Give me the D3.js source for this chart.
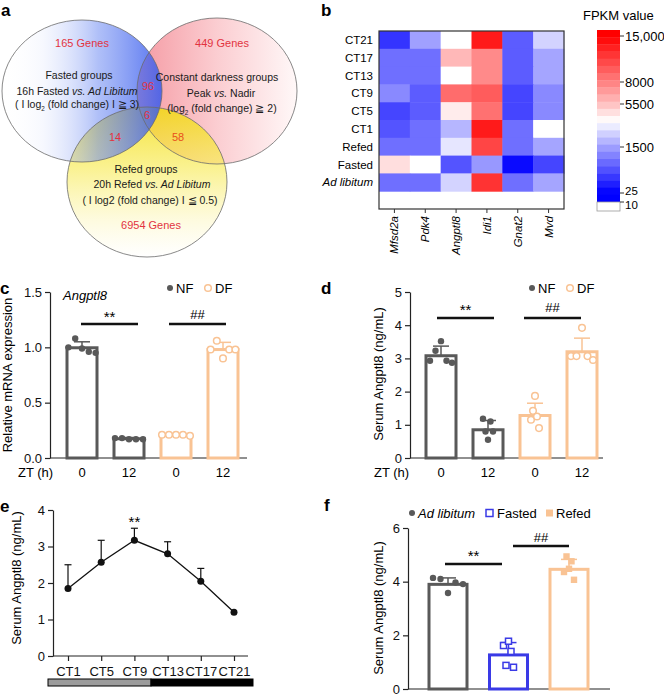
<!DOCTYPE html>
<html><head><meta charset="utf-8">
<script src="https://cdn.jsdelivr.net/npm/d3@7"></script>
<style>
body{margin:0;background:#fff;}
svg{display:block;font-family:"Liberation Sans",Arial,Helvetica,sans-serif;}
</style></head><body>
<svg id="fig" width="664" height="696"></svg>
<script>
// ================= DATA =================
// Panel a (Venn)
const vennUniqueCounts = [165, 449, 6954];      // Fasted, Constant darkness, Refed
const vennPairCounts = [96, 14, 58];             // F∩D, F∩R, D∩R
const vennTripleCount = [6];
// Panel b (heatmap, FPKM)
const hmRows = ["CT21","CT17","CT13","CT9","CT5","CT1","Refed","Fasted","Ad libitum"];
const hmGenes = ["Mfsd2a","Pdk4","Angptl8","Idi1","Gnat2","Mvd"];
const hmValues = [
  [500, 1500, 3900, 13600, 870, 2780],
  [1050, 1050, 5800, 7600, 870, 1620],
  [1050, 1050, 3900, 7600, 870, 1620],
  [1290, 870, 9120, 9960, 660, 1290],
  [660, 870, 4380, 8840, 660, 1290],
  [800, 1050, 2050, 13600, 1050, 3900],
  [1050, 1050, 3260, 11220, 1050, 1620],
  [4730, 3900, 800, 1430, 120, 660],
  [1050, 1050, 2780, 12200, 1050, 1620]
];
const cbTickValues = [10, 25, 1500, 5500, 8000, 15000];
const cbTickLabels = ["10", "25", "1500", "5500", "8000", "15,000"];
// Panel c
const ztLabels = ["0", "12", "0", "12"];
const ztGroups = ["NF", "NF", "DF", "DF"];
const cMeans = [0.996, 0.174, 0.208, 0.98];
const cErrTop = [1.05, 0.185, 0.215, 1.045];
const cPoints = [[1.0, 1.08, 0.99, 0.96, 0.95],[0.18, 0.18, 0.17, 0.17, 0.17],[0.21, 0.21, 0.21, 0.21, 0.20],[0.98, 1.06, 0.90, 0.98, 0.98]];
const cTicks = [0, 0.5, 1.0, 1.5];
// Panel d
const dMeans = [3.08, 0.85, 1.28, 3.2];
const dErrTop = [3.37, 1.13, 1.65, 3.61];
const dPoints = [[2.93, 3.23, 3.52, 2.93, 2.87],[1.18, 0.8, 0.55, 1.1, 0.8],[1.15, 1.42, 1.87, 1.25, 0.9],[3.07, 3.07, 3.92, 3.07, 2.95]];
const dTicks = [0, 1, 2, 3, 4, 5];
// Panel e
const ctLabels = ["CT1", "CT5", "CT9", "CT13", "CT17", "CT21"];
const eMeans = [1.85, 2.57, 3.17, 2.8, 2.05, 1.2];
const eErrTop = [2.5, 3.17, 3.5, 3.13, 2.4, 1.2];
const eTicks = [0, 1, 2, 3, 4];
// Panel f
const fGroups = ["Ad libitum", "Fasted", "Refed"];
const fMeans = [3.9, 1.27, 4.46];
const fErrTop = [4.14, 1.73, 4.83];
const fPoints = [[4.14, 4.1, 3.58, 3.97, 3.91],[1.62, 0.88, 1.78, 1.4, 0.81],[4.36, 4.94, 4.48, 4.76, 4.07]];
const fTicks = [0, 2, 4, 6];

// ================= STYLE =================
const GRAY = "#595959", ORANGE = "#f9c394", BLUE = "#3a3ae6", RED = "#e2333f", AXIS = "#222";
const groupColor = {NF: GRAY, DF: ORANGE, "Ad libitum": GRAY, Fasted: BLUE, Refed: ORANGE};

const svg = d3.select("#fig");
const defs = svg.append("defs");

function panelLabel(t, x, y) {
  svg.append("text").attr("x", x).attr("y", y).text(t)
    .style("font-size", "17px").style("font-weight", "bold");
}

// ================= PANEL A =================
(function() {
  const g = svg.append("g");
  function grad(id, vertical, stops) {
    const lg = defs.append("linearGradient").attr("id", id)
      .attr("x1", 0).attr("y1", 0).attr("x2", vertical ? 0 : 1).attr("y2", vertical ? 1 : 0);
    stops.forEach(s => lg.append("stop").attr("offset", s[0]).attr("stop-color", s[1]).attr("stop-opacity", s[2] === undefined ? 1 : s[2]));
  }
  grad("gPink", false, [[0, "#f59aa3"], [0.5, "#fbcdd1"], [1, "#fff8f8"]]);
  grad("gYellow", true, [[0, "#f2dc10", 0.85], [0.4, "#f8ec60", 0.7], [0.75, "#fdf8c8", 0.6], [1, "#ffffff", 0.5]]);
  grad("gBlue", false, [[0, "#ffffff", 0], [0.25, "#c8d3fa", 0.15], [0.6, "#6f8cf2", 0.55], [1, "#3659ee", 0.85]]);
  const shapes = [
    {cx: 217, cy: 91, rx: 80, ry: 73, fill: "url(#gPink)"},
    {cx: 147, cy: 182, rx: 80, ry: 75, fill: "url(#gYellow)"},
    {cx: 82, cy: 91, rx: 80, ry: 71, fill: "url(#gBlue)"}
  ];
  g.selectAll("ellipse.f").data(shapes).join("ellipse")
    .attr("cx", d => d.cx).attr("cy", d => d.cy).attr("rx", d => d.rx).attr("ry", d => d.ry)
    .attr("fill", d => d.fill);
  g.selectAll("ellipse.o").data(shapes).join("ellipse")
    .attr("cx", d => d.cx).attr("cy", d => d.cy).attr("rx", d => d.rx).attr("ry", d => d.ry)
    .attr("fill", "none").attr("stroke", "#6b6b6b").attr("stroke-width", 0.8);

  function rich(x, y, segs, size, color) {
    const t = g.append("text").attr("x", x).attr("y", y).attr("text-anchor", "middle")
      .style("font-size", size + "px").attr("fill", color || "#1a1a1a");
    let sub = false;
    segs.forEach(s => {
      const ts = t.append("tspan").text(s.t);
      if (s.i) ts.style("font-style", "italic");
      if (s.sub) { ts.attr("dy", 3).style("font-size", (size * 0.6) + "px"); sub = true; }
      else if (sub) { ts.attr("dy", -3); sub = false; }
    });
  }
  const fs = 10.5;
  rich(82, 47, [{t: vennUniqueCounts[0] + " Genes"}], 11, RED);
  rich(222, 47, [{t: vennUniqueCounts[1] + " Genes"}], 11, RED);
  rich(151, 229, [{t: vennUniqueCounts[2] + " Genes"}], 11, RED);
  rich(148, 90, [{t: String(vennPairCounts[0])}], 11, RED);
  rich(115, 141, [{t: String(vennPairCounts[1])}], 11, RED);
  rich(178, 141, [{t: String(vennPairCounts[2])}], 11, "#e8501a");
  rich(147, 119, [{t: String(vennTripleCount[0])}], 11, RED);
  rich(79, 79, [{t: "Fasted groups"}], fs);
  rich(77, 95, [{t: "16h Fasted "}, {t: "vs. Ad Libitum", i: true}], fs);
  rich(77, 108, [{t: "( I log"}, {t: "2", sub: true}, {t: " (fold change) I \u2267 3)"}], fs);
  rich(217, 81, [{t: "Constant darkness groups"}], fs);
  rich(221, 97, [{t: "Peak "}, {t: "vs.", i: true}, {t: " Nadir"}], fs);
  rich(222, 112, [{t: "(log"}, {t: "2", sub: true}, {t: " (fold change) \u2267 2)"}], fs);
  rich(146, 173, [{t: "Refed groups"}], fs);
  rich(152, 188, [{t: "20h Refed "}, {t: "vs. Ad Libitum", i: true}], fs);
  rich(150, 204, [{t: "( I log2 (fold change) I \u2266 0.5)"}], fs);
  panelLabel("a", 1, 16);
})();

// ================= PANEL B =================
(function() {
  const g = svg.append("g");
  const x = d3.scaleBand().domain(hmGenes).range([379, 564]);
  const y = d3.scaleBand().domain(hmRows.concat(["__blank"])).range([31, 209]);
  const color = d3.scaleLinear().domain([25, 1500, 3900, 5500, 8000, 15000])
    .range(["#0000ff", "#a0a0ff", "#ffffff", "#ffc0c0", "#ff8080", "#ff0000"]).clamp(true);
  const cells = [];
  hmRows.forEach((r, i) => hmGenes.forEach((gn, j) => cells.push({r, gn, v: hmValues[i][j]})));
  g.selectAll("rect.c").data(cells).join("rect")
    .attr("x", d => x(d.gn)).attr("y", d => y(d.r))
    .attr("width", x.bandwidth() + 0.5).attr("height", y.bandwidth() + 0.5)
    .attr("fill", d => color(d.v));
  g.append("rect").attr("x", 379).attr("y", 31).attr("width", 185).attr("height", 178)
    .attr("fill", "none").attr("stroke", "#333").attr("stroke-width", 1.2);
  hmGenes.forEach(gn => {
    const cx = x(gn) + x.bandwidth() / 2;
    g.append("line").attr("x1", cx).attr("x2", cx).attr("y1", 209).attr("y2", 213).attr("stroke", "#333");
    g.append("text").attr("transform", `translate(${cx + 4},216) rotate(-90)`)
      .attr("text-anchor", "end").style("font-size", "11.5px").style("font-style", "italic").text(gn);
  });
  hmRows.forEach(r => {
    g.append("text").attr("x", 373).attr("y", y(r) + y.bandwidth() / 2 + 4)
      .attr("text-anchor", "end").style("font-size", "11.5px")
      .style("font-style", r === "Ad libitum" ? "italic" : "normal").text(r);
  });
  // colorbar
  const cbY = d3.scaleLinear().domain(cbTickValues).range([202, 193, 147, 104, 82, 36]).clamp(true);
  const nb = 24, top = 30, bot = 202, h = (bot - top) / nb;
  const bands = d3.range(nb).map(k => ({y0: top + k * h, v: cbY.invert(top + (k + 0.5) * h)}));
  g.selectAll("rect.cb").data(bands).join("rect")
    .attr("x", 597).attr("y", d => d.y0).attr("width", 23).attr("height", h + 0.4)
    .attr("fill", d => color(d.v));
  g.append("rect").attr("x", 597).attr("y", 202).attr("width", 23).attr("height", 9)
    .attr("fill", "#fff").attr("stroke", "#999").attr("stroke-width", 0.8);
  cbTickValues.forEach((v, i) => {
    const yy = cbY(v);
    const dy = v === 25 ? 1.5 : (v === 10 ? 7 : 4.5);
    g.append("line").attr("x1", 620).attr("x2", 624).attr("y1", yy).attr("y2", yy).attr("stroke", "#333");
    g.append("text").attr("x", 625).attr("y", yy + dy).style("font-size", v <= 25 ? "11.5px" : "13px").text(cbTickLabels[i]);
  });
  g.append("text").attr("x", 583).attr("y", 20).style("font-size", "13px").text("FPKM value");
  panelLabel("b", 321, 16);
})();

// ================= helpers for bar panels =================
function yAxis(g, yS, ticks, x0, fmt) {
  const ax = d3.axisLeft(yS).tickValues(ticks).tickSize(5).tickSizeOuter(0).tickFormat(fmt || d3.format("d"));
  const ag = g.append("g").attr("transform", `translate(${x0},0)`).call(ax);
  ag.selectAll("path,line").attr("stroke", AXIS).attr("stroke-width", 1.2);
  ag.selectAll("text").style("font-size", "13px").attr("fill", "#111").style("font-family", "inherit");
  return ag;
}
function yTitle(g, x, y, t) {
  g.append("text").attr("transform", `translate(${x},${y}) rotate(-90)`).attr("text-anchor", "middle")
    .style("font-size", "13px").text(t);
}
function barPanel(g, cfg) {
  const {xs, yS, means, errTop, points, groups, width, jitter, marker, y0} = cfg;
  means.forEach((m, i) => {
    const c = groupColor[groups[i]];
    const cx = xs[i];
    g.append("rect").attr("x", cx - width / 2).attr("y", yS(m)).attr("width", width)
      .attr("height", y0 - yS(m)).attr("fill", "#fff").attr("stroke", c).attr("stroke-width", 3);
    g.append("line").attr("x1", cx).attr("x2", cx).attr("y1", yS(m)).attr("y2", yS(errTop[i]))
      .attr("stroke", c).attr("stroke-width", 1.5);
    g.append("line").attr("x1", cx - 8).attr("x2", cx + 8).attr("y1", yS(errTop[i])).attr("y2", yS(errTop[i]))
      .attr("stroke", c).attr("stroke-width", 1.5);
    const pts = points[i];
    const sp = Array.isArray(jitter) ? jitter[i] : jitter;
    pts.forEach((v, k) => {
      const px = cx + (k - (pts.length - 1) / 2) * sp;
      marker(g, px, yS(v), groups[i], c);
    });
  });
}
function stdMarker(g, x, y, grp, c) {
  if (grp === "NF" || grp === "Ad libitum") g.append("circle").attr("cx", x).attr("cy", y).attr("r", 3.2).attr("fill", c);
  else if (grp === "DF") g.append("circle").attr("cx", x).attr("cy", y).attr("r", 3.3).attr("fill", "#fff").attr("stroke", c).attr("stroke-width", 1.5);
  else if (grp === "Fasted") g.append("rect").attr("x", x - 3).attr("y", y - 3).attr("width", 6).attr("height", 6).attr("fill", "#fff").attr("stroke", c).attr("stroke-width", 1.5);
  else g.append("rect").attr("x", x - 3.2).attr("y", y - 3.2).attr("width", 6.4).attr("height", 6.4).attr("fill", c);
}
function sig(g, x1, x2, y, label, ty) {
  g.append("line").attr("x1", x1).attr("x2", x2).attr("y1", y).attr("y2", y).attr("stroke", "#111").attr("stroke-width", 2.5);
  g.append("text").attr("x", (x1 + x2) / 2).attr("y", ty).attr("text-anchor", "middle")
    .style("font-size", label === "**" ? "15px" : "13px").text(label);
}
function legendNFDF(g, x, y) {
  g.append("circle").attr("cx", x).attr("cy", y).attr("r", 3).attr("fill", GRAY);
  g.append("text").attr("x", x + 6).attr("y", y + 5).style("font-size", "13px").text("NF");
  g.append("circle").attr("cx", x + 38).attr("cy", y).attr("r", 3.3).attr("fill", "#fff").attr("stroke", ORANGE).attr("stroke-width", 1.5);
  g.append("text").attr("x", x + 45).attr("y", y + 5).style("font-size", "13px").text("DF");
}

// ================= PANEL C =================
(function() {
  const g = svg.append("g");
  const yS = d3.scaleLinear().domain([0, 1.5]).range([458, 292]);
  const xP = d3.scalePoint().domain(d3.range(ztLabels.length)).range([82, 223]);
  const xs = ztLabels.map((_, i) => xP(i));
  yAxis(g, yS, cTicks, 50, d3.format(".1f"));
  g.append("line").attr("x1", 50).attr("x2", 247).attr("y1", 458).attr("y2", 458).attr("stroke", AXIS).attr("stroke-width", 1.2);
  barPanel(g, {xs, yS, means: cMeans, errTop: cErrTop, points: cPoints, groups: ztGroups, width: 30, jitter: [6.8, 7, 7, 6.2], marker: stdMarker, y0: 458});
  xs.forEach((cx, i) => g.append("text").attr("x", cx).attr("y", 477).attr("text-anchor", "middle").style("font-size", "13px").text(ztLabels[i]));
  g.append("text").attr("x", 18).attr("y", 477).style("font-size", "13px").text("ZT (h)");
  yTitle(g, 12, 375, "Relative mRNA expression");
  g.append("text").attr("x", 63).attr("y", 300).style("font-size", "13px").style("font-style", "italic").text("Angptl8");
  sig(g, 81, 138, 324, "**", 322);
  sig(g, 169, 226, 324, "##", 319);
  legendNFDF(g, 170, 288);
  panelLabel("c", 0, 294);
})();

// ================= PANEL D =================
(function() {
  const g = svg.append("g");
  const yS = d3.scaleLinear().domain([0, 5]).range([458, 292]);
  const xP = d3.scalePoint().domain(d3.range(ztLabels.length)).range([441, 582]);
  const xs = ztLabels.map((_, i) => xP(i));
  yAxis(g, yS, dTicks, 410);
  g.append("line").attr("x1", 410).attr("x2", 603).attr("y1", 458).attr("y2", 458).attr("stroke", AXIS).attr("stroke-width", 1.2);
  barPanel(g, {xs, yS, means: dMeans, errTop: dErrTop, points: dPoints, groups: ztGroups, width: 30, jitter: [5.5, 2.5, 2, 5.5], marker: stdMarker, y0: 458});
  xs.forEach((cx, i) => g.append("text").attr("x", cx).attr("y", 477).attr("text-anchor", "middle").style("font-size", "13px").text(ztLabels[i]));
  g.append("text").attr("x", 374).attr("y", 477).style("font-size", "13px").text("ZT (h)");
  yTitle(g, 383, 374, "Serum Angptl8 (ng/mL)");
  sig(g, 437, 494, 318, "**", 315);
  sig(g, 524, 581, 318, "##", 312);
  legendNFDF(g, 532, 288);
  panelLabel("d", 321, 294);
})();

// ================= PANEL E =================
(function() {
  const g = svg.append("g");
  const yS = d3.scaleLinear().domain([0, 4]).range([656, 510]);
  const xP = d3.scalePoint().domain(ctLabels).range([68, 234]);
  yAxis(g, yS, eTicks, 53);
  const xa = d3.axisBottom(xP).tickSize(5).tickSizeOuter(0);
  const ag = g.append("g").attr("transform", "translate(0,656)").call(xa);
  ag.select("path").attr("d", "M53,0H248");
  ag.selectAll("path,line").attr("stroke", AXIS).attr("stroke-width", 1.2);
  ag.selectAll("text").style("font-size", "13px").attr("fill", "#111").style("font-family", "inherit").attr("dy", "0.95em");
  const pts = ctLabels.map((c, i) => ({x: xP(c), m: eMeans[i], e: eErrTop[i]}));
  pts.forEach(p => {
    if (p.e > p.m) {
      g.append("line").attr("x1", p.x).attr("x2", p.x).attr("y1", yS(p.m)).attr("y2", yS(p.e)).attr("stroke", "#111").attr("stroke-width", 1.2);
      g.append("line").attr("x1", p.x - 3.5).attr("x2", p.x + 3.5).attr("y1", yS(p.e)).attr("y2", yS(p.e)).attr("stroke", "#111").attr("stroke-width", 1.2);
    }
  });
  g.append("path").datum(pts).attr("d", d3.line().x(d => d.x).y(d => yS(d.m)))
    .attr("fill", "none").attr("stroke", "#111").attr("stroke-width", 1.3);
  g.selectAll("circle.p").data(pts).join("circle").attr("cx", d => d.x).attr("cy", d => yS(d.m)).attr("r", 3.5).attr("fill", "#111");
  g.append("text").attr("x", xP("CT9")).attr("y", 527).attr("text-anchor", "middle").style("font-size", "15px").text("**");
  const xStart = xP("CT1") - 20, xMid = (xP("CT9") + xP("CT13")) / 2, xEnd = xP("CT21") + 19;
  g.append("rect").attr("x", xStart).attr("y", 679).attr("width", xMid - xStart).attr("height", 7).attr("fill", "#9c9c9c").attr("stroke", "#000").attr("stroke-width", 1);
  g.append("rect").attr("x", xMid).attr("y", 679).attr("width", xEnd - xMid).attr("height", 7).attr("fill", "#000").attr("stroke", "#000").attr("stroke-width", 1);
  yTitle(g, 21, 578, "Serum Angptl8 (ng/mL)");
  panelLabel("e", 0, 512);
})();

// ================= PANEL F =================
(function() {
  const g = svg.append("g");
  const yS = d3.scaleLinear().domain([0, 6]).range([689, 528]);
  const xP = d3.scalePoint().domain(fGroups).range([448, 569]);
  const xs = fGroups.map(d => xP(d));
  yAxis(g, yS, fTicks, 408);
  g.append("line").attr("x1", 408).attr("x2", 610).attr("y1", 689).attr("y2", 689).attr("stroke", AXIS).attr("stroke-width", 1.2);
  barPanel(g, {xs, yS, means: fMeans, errTop: fErrTop, points: fPoints, groups: fGroups, width: 38, jitter: [7.5, 2.5, 2.5], marker: stdMarker, y0: 689});
  yTitle(g, 383, 608, "Serum Angptl8 (ng/mL)");
  sig(g, 445, 502, 564, "**", 561);
  sig(g, 513, 569, 546, "##", 542);
  const ly = 513;
  g.append("circle").attr("cx", 412).attr("cy", ly).attr("r", 3).attr("fill", GRAY);
  g.append("text").attr("x", 418).attr("y", ly + 5).style("font-size", "13px").style("font-style", "italic").text(fGroups[0]);
  g.append("rect").attr("x", 486).attr("y", ly - 3.5).attr("width", 7).attr("height", 7).attr("fill", "#fff").attr("stroke", BLUE).attr("stroke-width", 1.5);
  g.append("text").attr("x", 497).attr("y", ly + 5).style("font-size", "13px").text(fGroups[1]);
  g.append("rect").attr("x", 546).attr("y", ly - 3.5).attr("width", 7).attr("height", 7).attr("fill", ORANGE);
  g.append("text").attr("x", 556).attr("y", ly + 5).style("font-size", "13px").text(fGroups[2]);
  panelLabel("f", 324, 511);
})();
</script>
</body></html>
